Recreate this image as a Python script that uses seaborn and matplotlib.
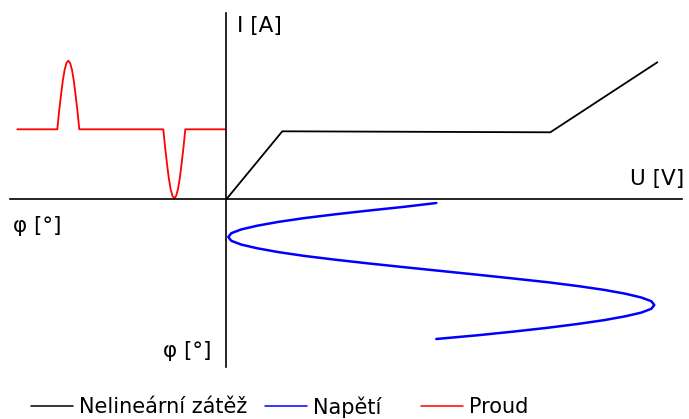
import matplotlib
matplotlib.use("Agg")
import matplotlib.pyplot as plt
from matplotlib.lines import Line2D
import seaborn as sns
import pandas as pd

# Nonlinear load characteristic I(U)
load_u = [0.0, 5.6, 32.4, 43.1]
load_i = [0.0, 6.8, 6.7, 13.7]

# Supply voltage vs. phase (phase runs downward)
volt_u = [21.0, 17.8, 14.2, 10.9, 7.8, 5.2, 3.1, 1.5, 0.5, 0.2, 0.5, 1.5, 3.1,
          5.2, 7.8, 10.9, 14.2, 17.8, 21.5, 25.2, 28.8, 32.2, 35.2, 37.8, 39.9,
          41.5, 42.5, 42.8, 42.5, 41.5, 39.9, 37.8, 35.2, 32.2, 28.8, 25.2, 21.0]
volt_phi = [-0.37, -0.75, -1.13, -1.50, -1.88, -2.26, -2.64, -3.01, -3.39,
            -3.77, -4.15, -4.53, -4.90, -5.28, -5.66, -6.04, -6.41, -6.79,
            -7.17, -7.55, -7.93, -8.30, -8.68, -9.06, -9.44, -9.82, -10.19,
            -10.57, -10.95, -11.33, -11.70, -12.08, -12.46, -12.84, -13.22,
            -13.59, -13.97]

# Resulting current vs. phase (phase runs to the left)
curr_phi = [-20.9,
            -16.9, -16.72, -16.53, -16.35, -16.17, -15.98, -15.8, -15.62,
            -15.43, -15.25, -15.07, -14.88, -14.7,
            -6.3, -6.12, -5.93, -5.75, -5.57, -5.38, -5.2, -5.02,
            -4.83, -4.65, -4.47, -4.28, -4.1,
            -0.1]
curr_i = [7.0,
          7.0, 8.78, 10.43, 11.85, 12.94, 13.63, 13.86, 13.63,
          12.94, 11.85, 10.43, 8.78, 7.0,
          7.0, 5.21, 3.55, 2.12, 1.02, 0.33, 0.1, 0.33,
          1.02, 2.12, 3.55, 5.21, 7.0,
          7.0]

series_names = ["Nelineární zátěž", "Napětí", "Proud"]
series_colors = ["#000000", "#0000ff", "#ff0000"]
axis_labels = ["I [A]", "U [V]", "φ [°]", "φ [°]"]

sns.set_theme(style="white")
plt.rcParams["font.family"] = ["DejaVu Sans"]
plt.rcParams["text.color"] = "black"

fig = plt.figure(figsize=(6.89, 4.19), dpi=100)
ax = fig.add_axes([0, 0, 1, 1])
ax.set_xlim(-22.63, 46.27)
ax.set_ylim(-21.97, 19.93)

df_load = pd.DataFrame({"x": load_u, "y": load_i})
df_volt = pd.DataFrame({"x": volt_u, "y": volt_phi})
df_curr = pd.DataFrame({"x": curr_phi, "y": curr_i})

sns.lineplot(data=df_load, x="x", y="y", sort=False, estimator=None,
             color=series_colors[0], linewidth=1.3, ax=ax)
sns.lineplot(data=df_volt, x="x", y="y", sort=False, estimator=None,
             color=series_colors[1], linewidth=1.8, ax=ax)
sns.lineplot(data=df_curr, x="x", y="y", sort=False, estimator=None,
             color=series_colors[2], linewidth=1.3, ax=ax)

# Cross-shaped axes through the origin
for side in ["top", "right"]:
    ax.spines[side].set_visible(False)
ax.spines["left"].set_position(("data", 0))
ax.spines["bottom"].set_position(("data", 0))
ax.spines["left"].set_bounds(-16.74, 18.6)
ax.spines["bottom"].set_bounds(-21.63, 45.57)
for side in ["left", "bottom"]:
    ax.spines[side].set_color("black")
    ax.spines[side].set_linewidth(1.2)
ax.set_xticks([])
ax.set_yticks([])
ax.set_xlabel("")
ax.set_ylabel("")
ax.patch.set_alpha(0)

fs = 15.5
ax.text(1.07, 16.73, axis_labels[0], fontsize=fs, ha="left", va="baseline", color="black")
ax.text(40.4, 1.43, axis_labels[1], fontsize=fs, ha="left", va="baseline", color="black")
ax.text(-21.33, -3.27, axis_labels[2], fontsize=fs, ha="left", va="baseline", color="black")
ax.text(-6.33, -15.77, axis_labels[3], fontsize=fs, ha="left", va="baseline", color="black")

# Legend entries laid out along the bottom edge
legend_x = [31 / 689, 265 / 689, 421 / 689]
for name, col, lx in zip(series_names, series_colors, legend_x):
    h = Line2D([], [], color=col, linewidth=1.1)
    fig.legend(handles=[h], labels=[name], loc="center left",
               bbox_to_anchor=(lx, 1 - 407 / 419), frameon=False,
               fontsize=15, handlelength=2.0, handletextpad=0.3,
               borderpad=0, borderaxespad=0, labelcolor="black")

fig.savefig("out.png", dpi=100)
